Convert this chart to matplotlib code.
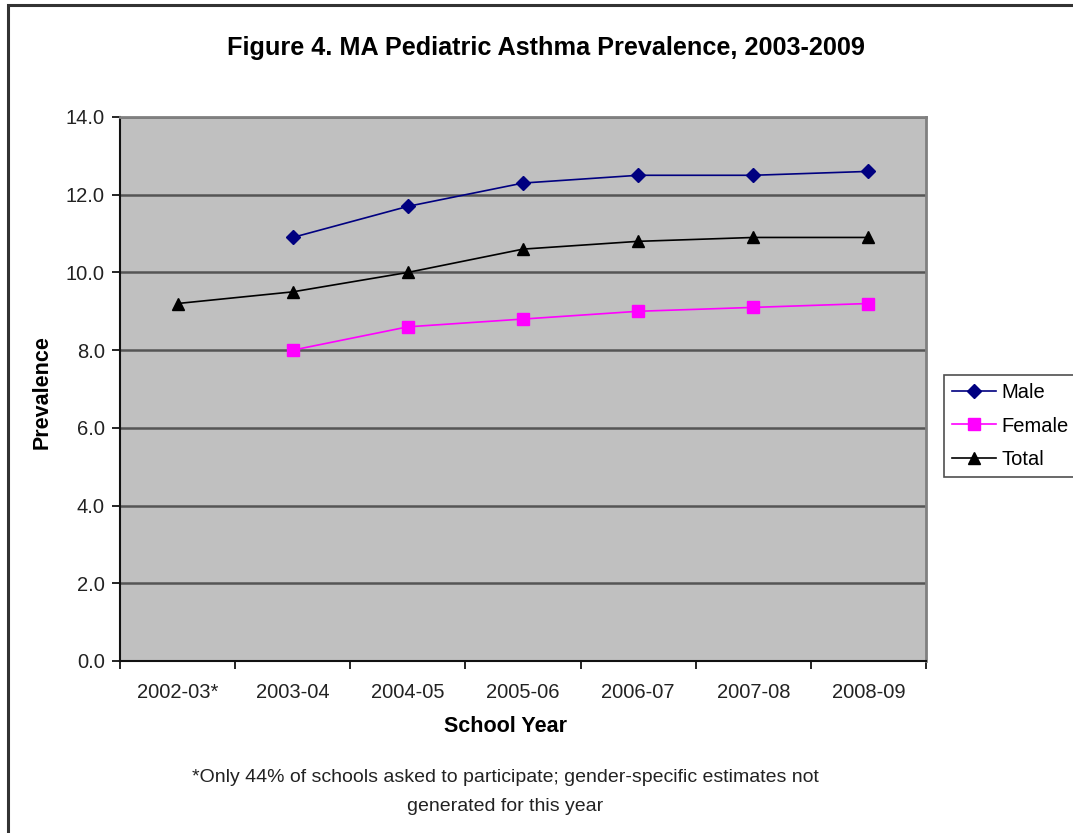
import matplotlib.pyplot as plt
import numpy as np
from matplotlib.patches import Rectangle

plt.rcParams["font.family"] = ["Liberation Sans", "DejaVu Sans"]

# School years on the category axis.
years = ["2002-03*", "2003-04", "2004-05", "2005-06", "2006-07", "2007-08", "2008-09"]

# Prevalence (%) by school year; gender split not available for 2002-03.
male = [np.nan, 10.9, 11.7, 12.3, 12.5, 12.5, 12.6]
female = [np.nan, 8.0, 8.6, 8.8, 9.0, 9.1, 9.2]
total = [9.2, 9.5, 10.0, 10.6, 10.8, 10.9, 10.9]

W, H = 1073, 833
fig = plt.figure(figsize=(W / 100, H / 100), dpi=100)

# Chart area frame (runs off the right and bottom edge).
fig.patches.append(Rectangle((8 / W, -0.1), 1.2, 1 - 5 / H + 0.1,
                             transform=fig.transFigure, fill=False,
                             edgecolor="#333333", linewidth=2.2))

ax = fig.add_axes([120 / W, 1 - 661 / H, 806 / W, 544 / H])
ax.set_facecolor("#C0C0C0")

x = np.arange(len(years))
ax.plot(x, male, color="#000080", marker="D", markersize=7, linewidth=1.2,
        label="Male", zorder=3)
ax.plot(x, female, color="#FF00FF", marker="s", markersize=8, linewidth=1.2,
        label="Female", zorder=3)
ax.plot(x, total, color="black", marker="^", markersize=8, linewidth=1.2,
        label="Total", zorder=3)

# Axes limits and ticks.
ax.set_xlim(-0.5, len(years) - 0.5)
ax.set_ylim(0, 14)
ax.set_yticks(np.arange(0, 14.1, 2))
ax.set_yticklabels([f"{v:.1f}" for v in np.arange(0, 14.1, 2)], fontsize=14.5,
                   color="#222222")
ax.set_xticks(x)
ax.set_xticklabels(years, fontsize=14.5, color="#222222")
ax.set_xticks(np.arange(-0.5, len(years)), minor=True)
ax.tick_params(axis="x", which="major", length=0, pad=16)
ax.tick_params(axis="x", which="minor", length=6, width=1.2, direction="out")
ax.tick_params(axis="y", length=6, width=1.2, direction="out", pad=5)

# Horizontal gridlines.
ax.yaxis.grid(True, color="#555555", linewidth=1.8)
ax.set_axisbelow(True)

for side in ["left", "bottom"]:
    ax.spines[side].set_color("#111111")
    ax.spines[side].set_linewidth(1.5)
for side in ["top", "right"]:
    ax.spines[side].set_color("#808080")
    ax.spines[side].set_linewidth(2)

# Labels.
fig.text(506 / W, 1 - 726 / H, "School Year", ha="center", va="center",
         fontsize=15.5, fontweight="bold")
fig.text(42 / W, 1 - 392 / H, "Prevalence", ha="center", va="center",
         rotation=90, fontsize=15.5, fontweight="bold")
fig.text(546 / W, 1 - 48 / H, "Figure 4. MA Pediatric Asthma Prevalence, 2003-2009",
         ha="center", va="center", fontsize=18.2, fontweight="bold")
fig.text(505 / W, 1 - 792 / H,
         "*Only 44% of schools asked to participate; gender-specific estimates not\n"
         "generated for this year",
         ha="center", va="center", fontsize=14, color="#222222",
         linespacing=1.85)

# Legend to the right of the plot.
leg = ax.legend(loc="center left", bbox_to_anchor=(944 / W, 1 - 426 / H),
                bbox_transform=fig.transFigure, fontsize=14.5, frameon=True,
                fancybox=False, borderpad=0.4, handlelength=2.2,
                handletextpad=0.25, labelspacing=0.72, borderaxespad=0)
leg.get_frame().set_edgecolor("#222222")
leg.get_frame().set_linewidth(1.2)

plt.savefig("out.png", dpi=100)
plt.close()
